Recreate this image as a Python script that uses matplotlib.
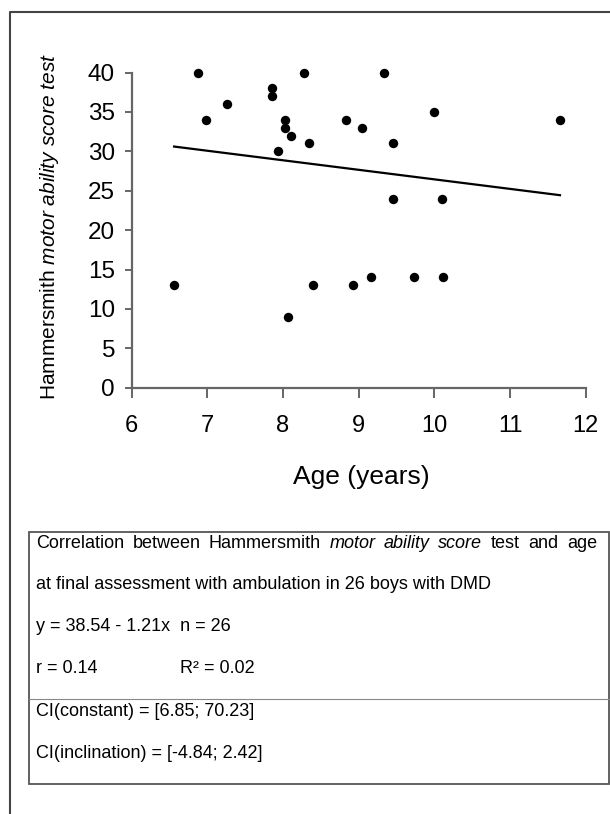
import numpy as np
import matplotlib
matplotlib.use("Agg")
import matplotlib.pyplot as plt
from matplotlib.lines import Line2D
from matplotlib.patches import Rectangle

plt.rcParams['font.family'] = ['Liberation Sans', 'DejaVu Sans']
plt.rcParams['mathtext.fontset'] = 'custom'
plt.rcParams['mathtext.rm'] = 'Liberation Sans'
plt.rcParams['mathtext.it'] = 'Liberation Sans:italic'

# datos
age = [6.87, 6.98, 7.26, 7.86, 7.86, 8.28, 8.03, 8.03, 8.11, 7.94, 8.34, 8.83, 9.05,
       9.33, 9.45, 9.99, 11.66, 9.45, 10.10, 6.56, 8.06, 8.40, 8.92, 9.16, 9.73, 10.12]
score = [40, 34, 36, 38, 37, 40, 34, 33, 32, 30, 31, 34, 33,
         40, 31, 35, 34, 24, 24, 13, 9, 13, 13, 14, 14, 14]

intercept = 38.54
slope = -1.21

x_ticks = [6, 7, 8, 9, 10, 11, 12]
y_ticks = [0, 5, 10, 15, 20, 25, 30, 35, 40]

y_label = r"Hammersmith $\mathit{motor\ ability\ score\ test}$"
x_label = "Age (years)"

line1_words = [("Correlation", "normal"), ("between", "normal"), ("Hammersmith", "normal"),
               ("motor", "italic"), ("ability", "italic"), ("score", "italic"),
               ("test", "normal"), ("and", "normal"), ("age", "normal")]
line2 = "at final assessment with ambulation in 26 boys with DMD"
line3 = "y = 38.54 - 1.21x  n = 26"
line4a = "r = 0.14"
line4b = "R\u00b2 = 0.02"
line5 = "CI(constant) = [6.85; 70.23]"
line6 = "CI(inclination) = [-4.84; 2.42]"

W, H = 610, 814
fig = plt.figure(figsize=(W / 100, H / 100), dpi=100)

def fx(px):
    return px / W

def fy(py):
    return 1 - py / H

ax = fig.add_axes([fx(131.7), fy(387.7), (585.7 - 131.7) / W, (387.7 - 72.5) / H])

ax.scatter(age, score, s=46, color='black', clip_on=False, zorder=3, linewidths=0)
xs = np.array([min(age), max(age)])
ax.plot(xs, intercept + slope * xs, color='black', lw=1.6)

ax.set_xlim(6, 12)
ax.set_ylim(0, 40)
ax.set_xticks(x_ticks)
ax.set_yticks(y_ticks)
for side in ['top', 'right']:
    ax.spines[side].set_visible(False)
for side in ['left', 'bottom']:
    ax.spines[side].set_color('#666666')
    ax.spines[side].set_linewidth(1.6)
ax.tick_params(axis='y', length=5, width=1.4, color='#666666', pad=7, labelsize=17.5)
ax.tick_params(axis='x', length=7, width=1.4, color='#666666', pad=13, labelsize=17)

fig.text(fx(49.5), fy(226.5), y_label, rotation=90, ha='center', va='center', fontsize=15)
fig.text(fx(361), fy(477), x_label, ha='center', va='center', fontsize=19)

# marco exterior
fig.add_artist(Line2D([fx(9.7), fx(9.7), 1.0], [0, fy(11.7), fy(11.7)],
                      transform=fig.transFigure, color='#444444', lw=1.5))

# recuadro de texto
box_l, box_r, box_t, box_b = 28.7, 608.5, 532, 784.3
fig.add_artist(Rectangle((fx(box_l), fy(box_b)), (box_r - box_l) / W, (box_b - box_t) / H,
                         transform=fig.transFigure, fill=False, ec='#555555', lw=1.3))
fig.add_artist(Line2D([fx(box_l), fx(box_r)], [fy(699.3), fy(699.3)],
                      transform=fig.transFigure, color='#888888', lw=0.8))

fs = 13
tx = 36
# primera linea justificada
renderer = fig.canvas.get_renderer()
texts = []
widths = []
for w, st in line1_words:
    t = fig.text(0, fy(543.3), w, style=st, fontsize=fs, va='center', ha='left')
    texts.append(t)
    widths.append(t.get_window_extent(renderer).width)
gap = (597 - tx - sum(widths)) / (len(texts) - 1)
pos = tx
for t, wd in zip(texts, widths):
    t.set_x(fx(pos))
    pos += wd + gap

fig.text(fx(tx), fy(584.3), line2, fontsize=fs, va='center')
fig.text(fx(tx), fy(626.7), line3, fontsize=fs, va='center')
fig.text(fx(tx), fy(668.3), line4a, fontsize=fs, va='center')
fig.text(fx(180), fy(668.3), line4b, fontsize=fs, va='center')
fig.text(fx(tx), fy(711.7), line5, fontsize=fs, va='center')
fig.text(fx(tx), fy(753.3), line6, fontsize=fs, va='center')

fig.savefig("out.png", dpi=100)
